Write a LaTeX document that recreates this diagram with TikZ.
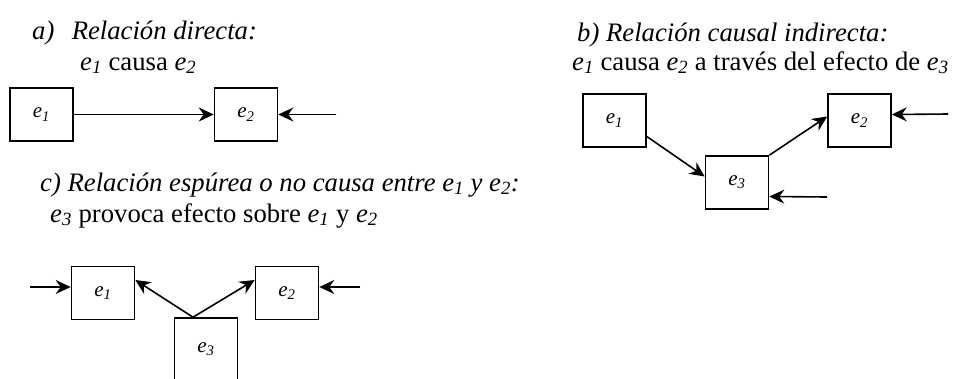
\documentclass[tikz,border=0pt]{standalone}
\usepackage{fontspec}
\setmainfont{Liberation Serif}
\usetikzlibrary{arrows.meta}
\newcommand{\evar}[1]{\textit{e}\textsubscript{\textit{#1}}}

\begin{document}
\begin{tikzpicture}[x=1pt, y=-1pt,
    caja/.style={draw, line width=1.6pt, minimum width=63pt, minimum height=53pt, inner sep=0pt, font=\fontsize{21}{24}\selectfont\itshape},
    flecha/.style={-{Stealth[length=15pt, width=14pt, inset=5pt]}, line width=1.6pt},
    rotulo/.style={anchor=base west, inner sep=0pt, font=\fontsize{26.7}{31}\selectfont}]
    \useasboundingbox (0,0) rectangle (956,378);
    \clip (0,0) rectangle (956,378);
    % a) relacion directa
    \node[rotulo] (tituloA) at (32,39) {\textit{a)\hspace{0.65em}Relación directa:}};
    \node[rotulo] (causaA) at (80,70) {\evar{1} causa \evar{2}};
    \node[caja] (a1) at (41.5,114.5) {\evar{1}};
    \node[caja] (a2) at (246,114.5) {\evar{2}};
    \coordinate (entA2) at (336,114.5);
    \draw[flecha] (a1.east) -- (a2.west);
    \draw[flecha] (entA2) -- (a2.east);
    % b) relacion causal indirecta
    \node[rotulo] (tituloB) at (577,41) {\textit{b) Relación causal indirecta:}};
    \node[rotulo] (causaB) at (572,70) {\evar{1} causa \evar{2} a través del efecto de \evar{3}};
    \node[caja] (b1) at (614.5,120.5) {\evar{1}};
    \node[caja] (b2) at (859.5,120.5) {\evar{2}};
    \node[caja] (b3) at (737,182.5) {\evar{3}};
    \coordinate (entB2) at (948,114);
    \coordinate (entB3) at (827,197);
    \draw[flecha] ([yshift=-16pt]b1.east) -- ([yshift=6pt]b3.west);
    \draw[flecha] (b3.north east) -- ([yshift=4pt]b2.west);
    \draw[flecha] (entB2) -- ([yshift=6pt]b2.east);
    \draw[flecha] (entB3) -- ([yshift=-14pt]b3.east);
    % c) relacion espurea
    \node[rotulo] (tituloC) at (40,191) {\textit{c) Relación espúrea o no causa entre \evar{1} y \evar{2}:}};
    \node[rotulo] (causaC) at (50,222) {\evar{3} provoca efecto sobre \evar{1} y \evar{2}};
    \node[caja] (c1) at (103,293) {\evar{1}};
    \node[caja] (c2) at (287,293) {\evar{2}};
    \node[caja, minimum height=62pt] (c3) at (206,349) {\evar{3}};
    \coordinate (entC1) at (30,287);
    \coordinate (entC2) at (360,287);
    \draw[flecha] ([xshift=-13pt]c3.north) -- ([yshift=13pt]c1.east);
    \draw[flecha] ([xshift=-13pt]c3.north) -- ([yshift=13pt]c2.west);
    \draw[flecha] (entC1) -- ([yshift=6pt]c1.west);
    \draw[flecha] (entC2) -- ([yshift=6pt]c2.east);
\end{tikzpicture}
\end{document}
